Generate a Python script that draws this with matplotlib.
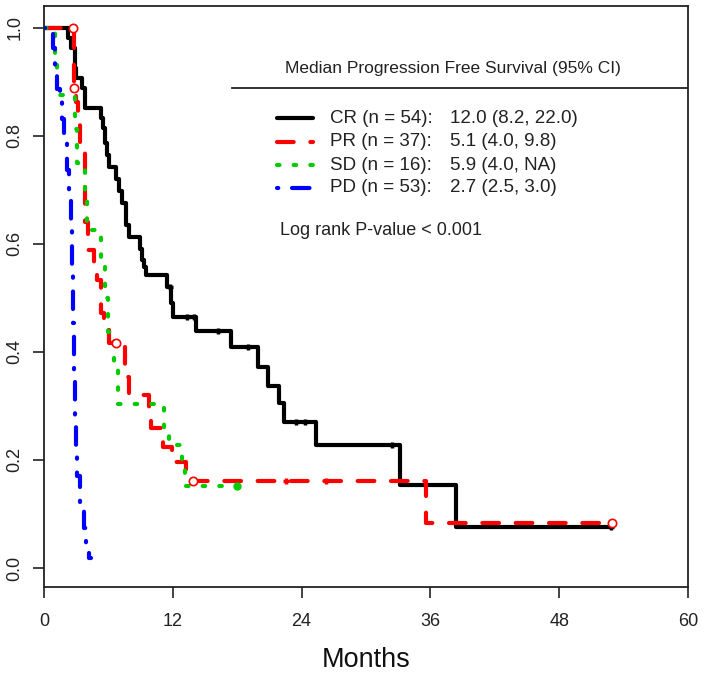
import matplotlib
matplotlib.use("Agg")
import matplotlib.pyplot as plt
from matplotlib.lines import Line2D
import numpy as np

plt.rcParams['font.family'] = ['Liberation Sans', 'DejaVu Sans']

# ---------------- data ----------------
cr_times = [0, 2.2, 2.5, 2.9, 3.0, 3.5, 3.8, 5.3, 5.5, 5.7, 5.9, 6.1, 6.7, 7.0, 7.3, 7.6, 7.9,
            8.9, 9.1, 9.3, 9.5, 11.5, 11.8, 12.0, 14.2, 17.4, 19.9, 20.9, 21.9, 22.4, 25.3,
            33.2, 38.4]
cr_surv = [1.0, 0.981, 0.963, 0.926, 0.907, 0.889, 0.852, 0.833, 0.815, 0.787, 0.765, 0.743,
           0.719, 0.697, 0.676, 0.635, 0.613, 0.590, 0.570, 0.557, 0.543, 0.520, 0.491, 0.465,
           0.439, 0.409, 0.372, 0.337, 0.306, 0.270, 0.228, 0.154, 0.076]
cr_end = 52.8
cr_censor = [11.7, 13.3, 14.0, 16.2, 19.0, 23.5, 24.3, 32.4, 52.8]

pr_times = [0, 2.75, 3.0, 3.2, 3.4, 3.85, 4.1, 4.7, 4.9, 5.3, 5.6, 6.1, 7.5, 7.9, 9.8,
            10.0, 11.1, 11.9, 13.2, 13.7, 35.6]
pr_surv = [1.0, 0.889, 0.862, 0.835, 0.770, 0.640, 0.589, 0.560, 0.533, 0.472, 0.441, 0.417,
           0.354, 0.320, 0.290, 0.260, 0.224, 0.196, 0.180, 0.161, 0.083]
pr_end = 52.9
pr_circles = [2.7, 2.8, 6.7, 13.9, 52.9]
pr_censor = [22.5, 26.3]

sd_times = [0, 1.0, 1.2, 2.9, 3.1, 3.8, 4.0, 5.3, 5.7, 6.0, 6.5, 6.9, 11.2, 11.6, 12.9, 13.1]
sd_surv = [1.0, 0.9375, 0.875, 0.8125, 0.75, 0.6875, 0.625, 0.5625, 0.5, 0.4375, 0.375,
           0.304, 0.26, 0.228, 0.19, 0.152]
sd_end = 18.0
sd_censor = [18.0]

pd_times = [0, 0.8, 1.0, 1.2, 1.5, 1.7, 1.9, 2.1, 2.3, 2.5, 2.6, 2.7, 2.8, 2.9, 3.0, 3.1,
            3.4, 3.7, 3.9, 4.2]
pd_surv = [1.0, 0.962, 0.925, 0.887, 0.868, 0.830, 0.792, 0.736, 0.679, 0.623, 0.547,
           0.453, 0.358, 0.264, 0.208, 0.170, 0.113, 0.075, 0.038, 0.019]
pd_end = 4.4

legend_labels = ["CR (n = 54):", "PR (n = 37):", "SD (n = 16):", "PD (n = 53):"]
legend_values = ["12.0 (8.2, 22.0)", "5.1 (4.0, 9.8)", "5.9 (4.0, NA)", "2.7 (2.5, 3.0)"]
legend_title = "Median Progression Free Survival (95% CI)"
pvalue_text = "Log rank P-value < 0.001"
x_ticks = [0, 12, 24, 36, 48, 60]
y_ticks = [0.0, 0.2, 0.4, 0.6, 0.8, 1.0]
x_label = "Months"

# ---------------- helpers ----------------
def step_xy(times, surv, end):
    t = list(times) + [end]
    s = list(surv) + [surv[-1]]
    return np.array(t), np.array(s)

def surv_at(times, surv, t):
    times = np.asarray(times)
    surv = np.asarray(surv)
    idx = np.searchsorted(times, np.asarray(t), side='right') - 1
    return surv[idx]

# ---------------- figure ----------------
fig = plt.figure(figsize=(7.08, 6.79), dpi=100)
ax = fig.add_axes([44/708, 1-587/679, 644/708, 581/679])

LW = 3.0
styles = {
    'CR': dict(color='black', linestyle='-'),
    'PR': dict(color='#ff0000', dashes=(4.0, 4.0)),
    'SD': dict(color='#00cc00', dashes=(0.6, 3.4)),
    'PD': dict(color='#0000ff', dashes=(0.3, 3.3, 4.2, 3.3)),
}

def draw(times, surv, end, key):
    x, y = step_xy(times, surv, end)
    kw = dict(styles[key])
    line, = ax.step(x, y, where='post', lw=LW, color=kw.pop('color'),
                    solid_capstyle='butt', dash_capstyle='round', **kw)
    return line

draw(cr_times, cr_surv, cr_end, 'CR')
draw(pr_times, pr_surv, pr_end, 'PR')
draw(sd_times, sd_surv, sd_end, 'SD')
draw(pd_times, pd_surv, pd_end, 'PD')

# censor marks
ax.plot(cr_censor, surv_at(cr_times, cr_surv, cr_censor), linestyle='none',
        marker='+', ms=5, mew=2.4, color='black')
ax.plot(pr_censor, surv_at(pr_times, pr_surv, pr_censor), linestyle='none',
        marker='+', ms=5, mew=2.4, color='#ff0000')
ax.plot(pr_circles, surv_at(pr_times, pr_surv, pr_circles), linestyle='none',
        marker='o', ms=6, mew=1.2, mfc='white', mec='#ff0000')
ax.plot(sd_censor, surv_at(sd_times, sd_surv, sd_censor), linestyle='none',
        marker='o', ms=5, mew=1, color='#00cc00')

ax.set_xlim(0, 60)
ax.set_ylim(-0.035, 1.04)
ax.set_xticks(x_ticks)
ax.set_xticklabels([str(v) for v in x_ticks])
ax.set_yticks(y_ticks)
ax.set_yticklabels([f"{v:.1f}" for v in y_ticks], rotation=90, va='center')
ax.tick_params(direction='out', length=8, width=1.2, labelsize=13, colors='#222222')
ax.tick_params(axis='x', pad=11)
ax.tick_params(axis='y', pad=7)
for sp in ax.spines.values():
    sp.set_linewidth(1.3)
    sp.set_color('#222222')
ax.set_xlabel(x_label, fontsize=19.5, labelpad=12, color='#111111')

# ---------------- legend (manual) ----------------
ax.text(0.635, 0.892, legend_title, transform=ax.transAxes, ha='center', va='center',
        fontsize=12.5, color='#222222')
ax.add_line(Line2D([0.292, 1.0], [0.859, 0.859], transform=ax.transAxes,
                   color='#222222', lw=1.3))
row_y = [0.807, 0.766, 0.726, 0.687]
keys = ['CR', 'PR', 'SD', 'PD']
for yy, key, lab, val in zip(row_y, keys, legend_labels, legend_values):
    kw = dict(styles[key])
    col = kw.pop('color')
    ln = Line2D([0.362, 0.418], [yy, yy], transform=ax.transAxes, color=col, lw=LW,
                dash_capstyle='round', solid_capstyle='round', **kw)
    ax.add_line(ln)
    ax.text(0.444, yy, lab, transform=ax.transAxes, ha='left', va='center',
            fontsize=13.5, color='#222222')
    ax.text(0.630, yy, val, transform=ax.transAxes, ha='left', va='center',
            fontsize=13.5, color='#222222')
ax.text(0.366, 0.614, pvalue_text, transform=ax.transAxes, ha='left', va='center',
        fontsize=13, color='#222222')

fig.savefig("out.png", dpi=100)
